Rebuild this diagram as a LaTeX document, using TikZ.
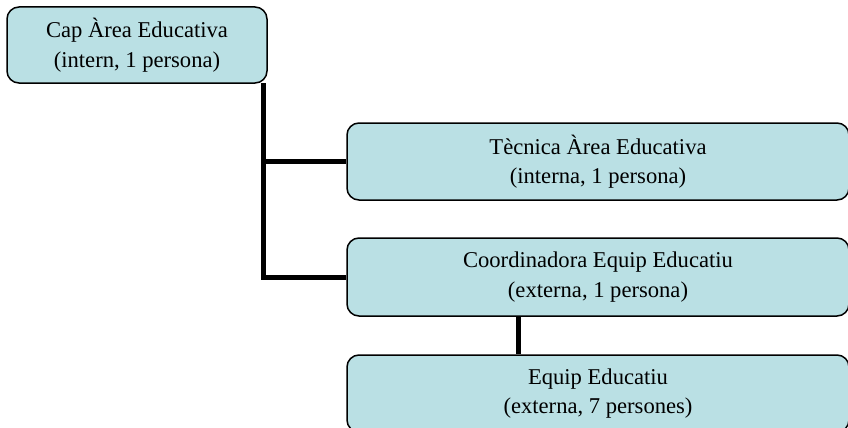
\documentclass[tikz,border=0pt]{standalone}
\usepackage{fontspec}
\setmainfont{Liberation Serif}
\begin{document}
\begin{tikzpicture}[x=1pt,y=-1pt,
  orgbox/.style={draw=black, line width=1.5pt, fill=boxfill, rounded corners=12pt,
    align=center, inner sep=0pt, font=\fontsize{22.6}{29.5}\selectfont},
  link/.style={line width=5pt}]
\definecolor{boxfill}{RGB}{186,224,228}
\useasboundingbox (0,0) rectangle (848,428);
\clip (0,0) rectangle (848,428);
\fill[white] (0,0) rectangle (848,428);

% org chart boxes
\node[orgbox, minimum width=260pt, minimum height=76pt] (cap) at (137,45)
  {Cap Àrea Educativa\\(intern, 1 persona)};
\node[orgbox, minimum width=502pt, minimum height=77pt] (tec) at (598,161.5)
  {Tècnica Àrea Educativa\\(interna, 1 persona)};
\node[orgbox, minimum width=502pt, minimum height=78pt] (coord) at (598,277)
  {Coordinadora Equip Educatiu\\(externa, 1 persona)};
\node[orgbox, minimum width=502pt, minimum height=77pt] (equip) at (598,393.5)
  {Equip Educatiu\\(externa, 7 persones)};

% connectors
\coordinate (trunk) at (263,83);
\coordinate (drop) at (518,0);
\draw[link] (trunk) |- (tec.west);
\draw[link] (trunk) |- (coord.west);
\draw[link] (coord.south -| drop) -- (equip.north -| drop);
\end{tikzpicture}
\end{document}
